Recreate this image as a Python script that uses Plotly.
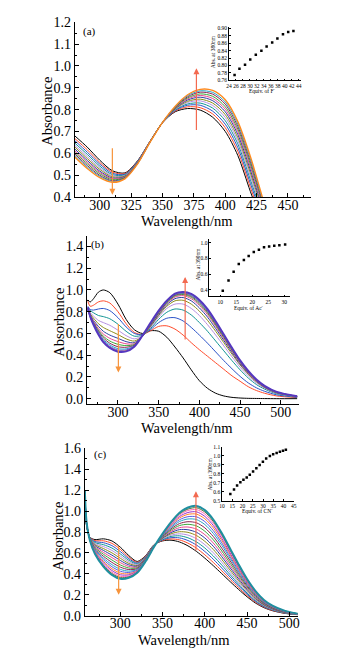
import plotly.graph_objects as go

W, H = 345, 663

# ---------------- data: panel (a) ----------------
wl_a = [280, 290, 300, 310, 320, 330, 340, 350, 360, 370, 380, 390, 400, 410, 420, 430]
A01 = [0.680, 0.628, 0.568, 0.520, 0.510, 0.565, 0.655, 0.740, 0.790, 0.805, 0.798, 0.765, 0.700, 0.590, 0.425, 0.270]
A02 = [0.668, 0.616, 0.558, 0.514, 0.507, 0.563, 0.654, 0.740, 0.793, 0.813, 0.809, 0.780, 0.717, 0.609, 0.444, 0.284]
A03 = [0.658, 0.605, 0.550, 0.508, 0.504, 0.562, 0.654, 0.740, 0.796, 0.820, 0.820, 0.793, 0.733, 0.626, 0.462, 0.298]
A04 = [0.647, 0.595, 0.541, 0.502, 0.501, 0.560, 0.653, 0.741, 0.799, 0.826, 0.830, 0.807, 0.749, 0.643, 0.479, 0.311]
A05 = [0.637, 0.585, 0.533, 0.497, 0.498, 0.558, 0.653, 0.741, 0.801, 0.833, 0.840, 0.819, 0.764, 0.658, 0.495, 0.323]
A06 = [0.629, 0.576, 0.526, 0.492, 0.496, 0.557, 0.652, 0.741, 0.803, 0.838, 0.848, 0.830, 0.777, 0.672, 0.510, 0.334]
A07 = [0.620, 0.567, 0.518, 0.487, 0.493, 0.556, 0.652, 0.741, 0.806, 0.844, 0.857, 0.841, 0.790, 0.686, 0.524, 0.344]
A08 = [0.612, 0.559, 0.512, 0.483, 0.491, 0.555, 0.652, 0.741, 0.808, 0.849, 0.865, 0.851, 0.802, 0.699, 0.537, 0.354]
A09 = [0.604, 0.552, 0.506, 0.479, 0.489, 0.553, 0.651, 0.742, 0.810, 0.854, 0.872, 0.861, 0.813, 0.711, 0.550, 0.364]
A10 = [0.597, 0.544, 0.499, 0.474, 0.487, 0.552, 0.651, 0.742, 0.812, 0.859, 0.880, 0.871, 0.825, 0.723, 0.563, 0.373]
A11 = [0.590, 0.537, 0.494, 0.471, 0.485, 0.551, 0.650, 0.742, 0.813, 0.864, 0.886, 0.879, 0.835, 0.734, 0.574, 0.382]
A12 = [0.583, 0.530, 0.488, 0.467, 0.483, 0.550, 0.650, 0.742, 0.815, 0.868, 0.893, 0.888, 0.845, 0.745, 0.585, 0.390]
spectra_a = [A01, A02, A03, A04, A05, A06, A07, A08, A09, A10, A11, A12]

ins_a_x = [25.6, 27.0, 28.6, 30.1, 31.7, 33.3, 34.8, 36.4, 37.9, 39.5, 41.0, 42.5]
ins_a_y = [0.774, 0.791, 0.802, 0.816, 0.829, 0.840, 0.851, 0.862, 0.873, 0.884, 0.890, 0.893]

# ---------------- data: panel (b) ----------------
wl_b = [263, 266, 270, 276, 282, 290, 300, 310, 320, 330, 340, 350, 360, 370, 380, 390, 400, 410, 420, 430, 440, 450, 460, 470, 480, 495, 520]
B01 = [0.905, 0.890, 0.920, 0.980, 1.000, 0.975, 0.870, 0.730, 0.635, 0.600, 0.625, 0.620, 0.565, 0.475, 0.375, 0.265, 0.165, 0.095, 0.050, 0.025, 0.012, 0.006, 0.003, 0.002, 0.001, 0.000, 0.000]
B02 = [0.895, 0.850, 0.860, 0.890, 0.900, 0.880, 0.800, 0.690, 0.610, 0.590, 0.625, 0.665, 0.670, 0.640, 0.585, 0.515, 0.450, 0.390, 0.330, 0.270, 0.210, 0.160, 0.110, 0.075, 0.050, 0.025, 0.010]
B03 = [0.850, 0.820, 0.815, 0.825, 0.830, 0.810, 0.745, 0.660, 0.600, 0.590, 0.635, 0.700, 0.740, 0.745, 0.715, 0.655, 0.585, 0.510, 0.430, 0.350, 0.275, 0.205, 0.145, 0.100, 0.068, 0.035, 0.013]
B04 = [0.840, 0.810, 0.790, 0.765, 0.755, 0.735, 0.685, 0.620, 0.575, 0.585, 0.645, 0.730, 0.795, 0.825, 0.815, 0.770, 0.700, 0.620, 0.530, 0.440, 0.350, 0.265, 0.190, 0.130, 0.088, 0.045, 0.016]
B05 = [0.830, 0.790, 0.760, 0.720, 0.700, 0.675, 0.630, 0.580, 0.550, 0.580, 0.655, 0.750, 0.830, 0.870, 0.870, 0.830, 0.765, 0.680, 0.585, 0.485, 0.385, 0.290, 0.210, 0.145, 0.097, 0.050, 0.018]
B06 = [0.830, 0.780, 0.740, 0.690, 0.655, 0.625, 0.590, 0.550, 0.530, 0.575, 0.665, 0.765, 0.850, 0.900, 0.905, 0.870, 0.805, 0.720, 0.620, 0.515, 0.410, 0.310, 0.225, 0.155, 0.103, 0.053, 0.019]
B07 = [0.820, 0.770, 0.720, 0.665, 0.620, 0.585, 0.555, 0.525, 0.515, 0.575, 0.670, 0.775, 0.865, 0.920, 0.930, 0.900, 0.835, 0.750, 0.645, 0.535, 0.425, 0.320, 0.232, 0.160, 0.106, 0.055, 0.020]
B08 = [0.820, 0.765, 0.710, 0.645, 0.595, 0.555, 0.525, 0.505, 0.505, 0.575, 0.675, 0.785, 0.875, 0.935, 0.948, 0.920, 0.858, 0.772, 0.665, 0.550, 0.437, 0.330, 0.238, 0.164, 0.109, 0.057, 0.020]
B09 = [0.820, 0.760, 0.700, 0.630, 0.575, 0.530, 0.500, 0.488, 0.498, 0.575, 0.680, 0.790, 0.882, 0.945, 0.958, 0.933, 0.872, 0.787, 0.678, 0.562, 0.446, 0.336, 0.243, 0.168, 0.112, 0.058, 0.021]
B10 = [0.820, 0.755, 0.695, 0.620, 0.560, 0.510, 0.478, 0.473, 0.492, 0.576, 0.685, 0.795, 0.888, 0.952, 0.966, 0.943, 0.883, 0.798, 0.689, 0.571, 0.453, 0.341, 0.247, 0.170, 0.114, 0.059, 0.021]
B11 = [0.820, 0.750, 0.690, 0.610, 0.545, 0.495, 0.460, 0.458, 0.487, 0.577, 0.690, 0.800, 0.893, 0.958, 0.972, 0.951, 0.892, 0.808, 0.698, 0.578, 0.459, 0.345, 0.250, 0.172, 0.115, 0.060, 0.021]
B12 = [0.830, 0.750, 0.685, 0.600, 0.535, 0.482, 0.447, 0.448, 0.483, 0.578, 0.693, 0.805, 0.897, 0.962, 0.976, 0.957, 0.899, 0.815, 0.704, 0.583, 0.463, 0.348, 0.252, 0.174, 0.116, 0.060, 0.021]
B13 = [0.830, 0.750, 0.680, 0.595, 0.527, 0.474, 0.438, 0.440, 0.480, 0.579, 0.696, 0.808, 0.900, 0.965, 0.979, 0.961, 0.904, 0.820, 0.708, 0.587, 0.466, 0.350, 0.254, 0.175, 0.117, 0.061, 0.022]
B14 = [0.840, 0.755, 0.680, 0.590, 0.520, 0.467, 0.432, 0.435, 0.478, 0.580, 0.698, 0.810, 0.902, 0.967, 0.981, 0.964, 0.908, 0.824, 0.712, 0.590, 0.468, 0.352, 0.255, 0.176, 0.118, 0.062, 0.022]
spectra_b = [B01, B02, B03, B04, B05, B06, B07, B08, B09, B10, B11, B12, B13, B14]

ins_b_x = [10.8, 12.6, 14.2, 15.8, 17.4, 18.9, 20.5, 22.1, 23.7, 25.3, 26.9, 28.5, 30.3]
ins_b_y = [0.39, 0.52, 0.63, 0.73, 0.78, 0.83, 0.88, 0.91, 0.94, 0.95, 0.96, 0.965, 0.975]

# ---------------- data: panel (c) ----------------
wl_c = [258, 260, 264, 270, 280, 290, 300, 310, 320, 330, 340, 350, 360, 370, 380, 390, 400, 410, 420, 430, 440, 450, 460, 470, 480, 495, 510]
C01 = [1.150, 0.860, 0.750, 0.728, 0.735, 0.715, 0.655, 0.575, 0.518, 0.575, 0.680, 0.715, 0.722, 0.705, 0.668, 0.615, 0.550, 0.478, 0.402, 0.325, 0.250, 0.180, 0.120, 0.076, 0.047, 0.021, 0.008]
C02 = [1.154, 0.863, 0.748, 0.718, 0.716, 0.692, 0.634, 0.560, 0.510, 0.571, 0.679, 0.720, 0.734, 0.725, 0.694, 0.646, 0.582, 0.509, 0.429, 0.347, 0.267, 0.192, 0.128, 0.081, 0.050, 0.023, 0.009]
C03 = [1.157, 0.866, 0.746, 0.709, 0.698, 0.670, 0.613, 0.545, 0.503, 0.567, 0.677, 0.725, 0.746, 0.744, 0.719, 0.676, 0.614, 0.540, 0.456, 0.369, 0.284, 0.204, 0.136, 0.086, 0.054, 0.024, 0.009]
C04 = [1.161, 0.868, 0.744, 0.699, 0.679, 0.647, 0.591, 0.530, 0.495, 0.563, 0.676, 0.730, 0.758, 0.764, 0.745, 0.706, 0.647, 0.571, 0.484, 0.391, 0.300, 0.216, 0.144, 0.092, 0.057, 0.026, 0.010]
C05 = [1.164, 0.871, 0.742, 0.689, 0.661, 0.624, 0.570, 0.515, 0.488, 0.560, 0.674, 0.735, 0.770, 0.783, 0.771, 0.737, 0.679, 0.602, 0.511, 0.413, 0.317, 0.228, 0.152, 0.097, 0.060, 0.028, 0.011]
C06 = [1.168, 0.874, 0.740, 0.680, 0.642, 0.601, 0.549, 0.500, 0.480, 0.556, 0.673, 0.740, 0.783, 0.803, 0.797, 0.767, 0.711, 0.633, 0.538, 0.435, 0.334, 0.240, 0.160, 0.102, 0.064, 0.029, 0.012]
C07 = [1.171, 0.877, 0.737, 0.670, 0.624, 0.579, 0.528, 0.486, 0.473, 0.552, 0.672, 0.744, 0.795, 0.823, 0.822, 0.798, 0.743, 0.664, 0.565, 0.457, 0.351, 0.251, 0.168, 0.107, 0.067, 0.031, 0.012]
C08 = [1.175, 0.880, 0.735, 0.660, 0.605, 0.556, 0.507, 0.471, 0.465, 0.548, 0.670, 0.749, 0.807, 0.842, 0.848, 0.828, 0.775, 0.695, 0.592, 0.479, 0.368, 0.263, 0.176, 0.112, 0.071, 0.033, 0.013]
C09 = [1.178, 0.882, 0.733, 0.651, 0.587, 0.533, 0.485, 0.456, 0.458, 0.544, 0.669, 0.754, 0.819, 0.862, 0.874, 0.859, 0.808, 0.726, 0.619, 0.501, 0.384, 0.275, 0.184, 0.117, 0.074, 0.034, 0.014]
C10 = [1.182, 0.885, 0.731, 0.641, 0.568, 0.510, 0.464, 0.441, 0.450, 0.540, 0.667, 0.759, 0.831, 0.881, 0.899, 0.889, 0.840, 0.757, 0.646, 0.524, 0.401, 0.287, 0.193, 0.123, 0.077, 0.036, 0.014]
C11 = [1.185, 0.888, 0.729, 0.631, 0.550, 0.488, 0.443, 0.426, 0.442, 0.537, 0.666, 0.764, 0.843, 0.901, 0.925, 0.920, 0.872, 0.787, 0.674, 0.546, 0.418, 0.299, 0.201, 0.128, 0.081, 0.038, 0.015]
C12 = [1.188, 0.890, 0.727, 0.623, 0.534, 0.468, 0.425, 0.413, 0.436, 0.533, 0.665, 0.768, 0.854, 0.918, 0.947, 0.946, 0.900, 0.814, 0.697, 0.564, 0.432, 0.309, 0.207, 0.132, 0.084, 0.039, 0.016]
C13 = [1.191, 0.893, 0.725, 0.615, 0.518, 0.449, 0.407, 0.400, 0.429, 0.530, 0.664, 0.772, 0.864, 0.935, 0.969, 0.972, 0.927, 0.840, 0.720, 0.583, 0.447, 0.319, 0.214, 0.137, 0.086, 0.041, 0.016]
C14 = [1.194, 0.895, 0.724, 0.608, 0.504, 0.432, 0.391, 0.390, 0.424, 0.527, 0.663, 0.776, 0.873, 0.949, 0.987, 0.994, 0.950, 0.863, 0.740, 0.599, 0.459, 0.328, 0.220, 0.140, 0.089, 0.042, 0.017]
C15 = [1.196, 0.897, 0.722, 0.601, 0.491, 0.416, 0.376, 0.379, 0.419, 0.524, 0.662, 0.779, 0.881, 0.963, 1.006, 1.015, 0.973, 0.885, 0.759, 0.615, 0.471, 0.336, 0.226, 0.144, 0.091, 0.043, 0.017]
C16 = [1.198, 0.898, 0.721, 0.596, 0.481, 0.403, 0.364, 0.371, 0.414, 0.522, 0.661, 0.782, 0.888, 0.974, 1.020, 1.033, 0.992, 0.902, 0.775, 0.627, 0.480, 0.343, 0.230, 0.147, 0.093, 0.044, 0.018]
C17 = [1.200, 0.900, 0.720, 0.590, 0.470, 0.390, 0.352, 0.362, 0.410, 0.520, 0.660, 0.785, 0.895, 0.985, 1.035, 1.050, 1.010, 0.920, 0.790, 0.640, 0.490, 0.350, 0.235, 0.150, 0.095, 0.045, 0.018]
spectra_c = [C01, C02, C03, C04, C05, C06, C07, C08, C09, C10, C11, C12, C13, C14, C15, C16, C17]

ins_c_x = [14.0, 15.8, 17.3, 18.9, 20.4, 22.0, 23.5, 25.1, 26.7, 28.3, 29.9, 31.5, 33.3, 34.9, 36.6, 38.2, 39.7, 41.1]
ins_c_y = [0.573, 0.623, 0.667, 0.704, 0.732, 0.758, 0.787, 0.824, 0.860, 0.896, 0.933, 0.969, 0.998, 1.016, 1.031, 1.045, 1.056, 1.067]

# ---------------- styles ----------------
palette = ['#000000', '#ff4a2a', '#2a52c8', '#119494', '#b48ee0', '#8c8c1a', '#2c3ea0',
           '#e8458f', '#3aa63a', '#8b2252', '#29a3c2', '#5a5ae0', '#ff7f2a', '#9932cc',
           '#ff69b4', '#556b2f', '#4682b4']
final_a = '#ff8a1e'
final_b = '#5537c0'
final_c = '#1f8fa0'
SERIF = 'Liberation Serif'

fig = go.Figure()

def add_spectra(wl, spectra, xa, ya, final_color, final_width):
    n = len(spectra)
    for i, s in enumerate(spectra):
        last = (i == n - 1)
        col = final_color if last else palette[i % len(palette)]
        fig.add_trace(go.Scatter(x=wl, y=s, mode='lines', xaxis=xa, yaxis=ya,
                                 line=dict(color=col, width=final_width if last else 1.0, shape='spline', smoothing=0.8),
                                 hoverinfo='skip', showlegend=False))

add_spectra(wl_a, spectra_a, 'x', 'y', final_a, 1.4)
add_spectra(wl_b, spectra_b, 'x3', 'y3', final_b, 2.0)
add_spectra(wl_c, spectra_c, 'x5', 'y5', final_c, 2.0)

for xs, ys, xa, ya in [(ins_a_x, ins_a_y, 'x2', 'y2'), (ins_b_x, ins_b_y, 'x4', 'y4'), (ins_c_x, ins_c_y, 'x6', 'y6')]:
    fig.add_trace(go.Scatter(x=xs, y=ys, mode='markers', xaxis=xa, yaxis=ya,
                             marker=dict(symbol='square', size=2.5, color='black'),
                             hoverinfo='skip', showlegend=False))

def dx(p0, p1):
    return [p0 / W, p1 / W]

def dy(top, bottom):
    return [1 - bottom / H, 1 - top / H]

def main_axis(domain, rng, dtick, minor_dtick, anchor, fmt=None, standoff=0):
    d = dict(domain=domain, range=rng, anchor=anchor, dtick=dtick,
             showline=True, linecolor='black', linewidth=1, mirror=False,
             ticks='inside', ticklen=4, tickwidth=1, tickcolor='black',
             showgrid=False, zeroline=False, ticklabelstandoff=standoff,
             tickfont=dict(family=SERIF, size=14, color='black'),
             minor=dict(dtick=minor_dtick, ticks='inside', ticklen=2, tickcolor='black', showgrid=False))
    if fmt:
        d['tickformat'] = fmt
    return d

def inset_axis(domain, rng, dtick, anchor, fmt=None, tick0=None):
    d = dict(domain=domain, range=rng, anchor=anchor, dtick=dtick, tickangle=0,
             showline=True, linecolor='black', linewidth=0.6, mirror=False,
             ticks='inside', ticklen=2, tickwidth=0.6, tickcolor='black',
             showgrid=False, zeroline=False,
             tickfont=dict(family=SERIF, size=5.5, color='black'))
    if fmt:
        d['tickformat'] = fmt
    if tick0 is not None:
        d['tick0'] = tick0
    return d

fig.update_layout(
    width=W, height=H, margin=dict(l=0, r=0, t=0, b=0),
    paper_bgcolor='white', plot_bgcolor='white', showlegend=False,
    xaxis=main_axis(dx(73, 313), [280, 468], 25, 12.5, 'y', standoff=-5),
    yaxis=main_axis(dy(15.7, 194.3), [0.4, 1.2], 0.1, 0.05, 'x', '.1f'),
    xaxis2=inset_axis(dx(230, 303), [24, 44.6], 2, 'y2'),
    yaxis2=inset_axis(dy(20, 75), [0.76, 0.905], 0.02, 'x2', '.2f', 0.76),
    xaxis3=main_axis(dx(85.5, 301), [262, 522], 50, 25, 'y3', standoff=-5),
    yaxis3=main_axis(dy(233.9, 406.3), [-0.05, 1.5], 0.2, 0.1, 'x3', '.1f'),
    xaxis4=inset_axis(dx(210, 292), [6.6, 31.8], 5, 'y4'),
    yaxis4=inset_axis(dy(237, 296), [0.32, 1.05], 0.2, 'x4', '.1f', 0.4),
    xaxis5=main_axis(dx(83.3, 300), [258, 510], 50, 25, 'y5', standoff=-5),
    yaxis5=main_axis(dy(451.7, 622.7), [0, 1.6], 0.2, 0.1, 'x5', '.1f'),
    xaxis6=inset_axis(dx(223, 296), [10, 45], 5, 'y6'),
    yaxis6=inset_axis(dy(450, 505), [0.5, 1.1], 0.1, 'x6', '.1f'),
)

ann = []
def text(x, y, s, size, angle=0):
    ann.append(dict(x=x / W, y=1 - y / H, xref='paper', yref='paper', text=s, showarrow=False,
                    textangle=angle, font=dict(family=SERIF, size=size, color='black'),
                    xanchor='center', yanchor='middle'))

# main axis titles
text(44, 107, 'Absorbance', 14.5, -90)
text(187, 219, 'Wavelength/nm', 14.5)
text(57, 323, 'Absorbance', 14.5, -90)
text(187, 431, 'Wavelength/nm', 14.5)
text(56, 542, 'Absorbance', 14.5, -90)
text(184, 648, 'Wavelength/nm', 14.5)
# panel labels
text(88, 25, '(a)', 11)
text(96.5, 242.5, '(b)', 11)
text(99.5, 457.5, '(c)', 11)
# inset titles
text(214, 46, 'Abs. at 380nm', 5.5, -90)
text(264, 86, 'Equiv. of F<sup>-</sup>', 5.5)
text(199, 263, 'Abs. at 390nm', 5.5, -90)
text(250, 308, 'Equiv. of Ac<sup>-</sup>', 5.5)
text(211, 478, 'Abs. at 390nm', 5.5, -90)
text(259, 516, 'Equiv. of CN<sup>-</sup>', 5.5)

# arrows (data coordinates)
def arrow(xa, ya, x, y_tail, y_head, color):
    ann.append(dict(x=x, y=y_head, ax=x, ay=y_tail, xref=xa, yref=ya, axref=xa, ayref=ya,
                    text='', showarrow=True, arrowhead=2, arrowsize=1, arrowwidth=1.2, arrowcolor=color))

arrow('x', 'y', 377, 0.70, 0.99, '#f36a50')
arrow('x', 'y', 310, 0.63, 0.41, '#f7943c')
arrow('x3', 'y3', 382.5, 0.53, 1.12, '#f36a50')
arrow('x3', 'y3', 300.5, 0.70, 0.24, '#f7943c')
arrow('x5', 'y5', 389.5, 0.61, 1.19, '#f36a50')
arrow('x5', 'y5', 298, 0.68, 0.20, '#f7943c')

fig.update_layout(annotations=ann)
fig.write_html('out.html', config={'displayModeBar': False},
               post_script="document.body.style.margin='0';document.body.style.padding='0';document.body.style.overflow='hidden';")
